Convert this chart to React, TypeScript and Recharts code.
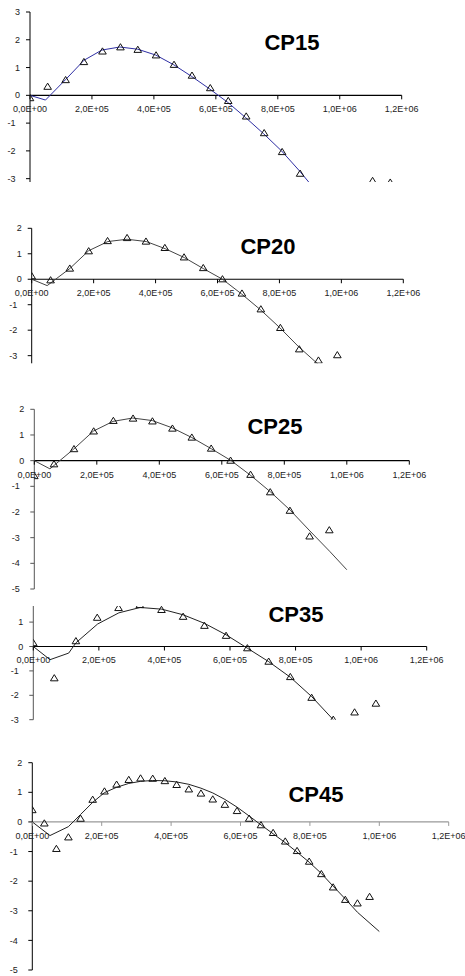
import { ScatterChart, Scatter, XAxis, YAxis, ReferenceLine } from "recharts";

const X_TICKS = [0, 200000, 400000, 600000, 800000, 1000000, 1200000];

// CP15
const CP15_X = [0, 57000, 115000, 174000, 234000, 292000, 348000, 407000, 465000, 523000, 582000, 640000, 698000, 756000, 814000, 872000, 1106000, 1163000];
const CP15_Y = [-0.1, 0.31, 0.55, 1.2, 1.58, 1.73, 1.64, 1.44, 1.1, 0.71, 0.26, -0.2, -0.76, -1.36, -2.04, -2.82, -3.08, -3.14];
const CP15_FIT_X = [0, 50000, 116000, 174000, 232000, 290000, 348000, 406000, 464000, 522000, 580000, 638000, 696000, 754000, 812000, 870000, 928000];
const CP15_FIT_Y = [0, -0.17, 0.58, 1.26, 1.63, 1.74, 1.66, 1.45, 1.1, 0.68, 0.23, -0.25, -0.8, -1.38, -2.0, -2.72, -3.5];

// CP20
const CP20_X = [0, 61000, 123000, 184000, 245000, 308000, 369000, 430000, 492000, 554000, 616000, 679000, 740000, 803000, 864000, 926000, 987000];
const CP20_Y = [0.12, -0.04, 0.42, 1.1, 1.5, 1.62, 1.48, 1.23, 0.86, 0.44, 0.0, -0.56, -1.18, -1.91, -2.75, -3.19, -2.98];
const CP20_FIT_X = [0, 50000, 123000, 184000, 246000, 308000, 370000, 431000, 493000, 554000, 616000, 678000, 739000, 801000, 862000, 940000];
const CP20_FIT_Y = [0, -0.25, 0.42, 1.12, 1.48, 1.57, 1.48, 1.2, 0.85, 0.42, 0.0, -0.58, -1.2, -1.9, -2.65, -3.5];

// CP25
const CP25_X = [0, 63000, 127000, 190000, 253000, 316000, 378000, 442000, 504000, 566000, 628000, 692000, 755000, 818000, 881000, 944000];
const CP25_Y = [-0.6, -0.14, 0.45, 1.14, 1.55, 1.64, 1.53, 1.25, 0.9, 0.47, 0.0, -0.55, -1.23, -1.95, -2.95, -2.71];
const CP25_FIT_X = [0, 50000, 126000, 189000, 252000, 315000, 378000, 441000, 504000, 567000, 630000, 693000, 756000, 819000, 882000, 945000, 1000000];
const CP25_FIT_Y = [0, -0.32, 0.45, 1.15, 1.53, 1.66, 1.56, 1.28, 0.9, 0.46, 0.0, -0.58, -1.22, -1.93, -2.74, -3.53, -4.25];

// CP35
const CP35_X = [0, 64000, 130000, 195000, 260000, 325000, 391000, 457000, 522000, 588000, 653000, 718000, 784000, 849000, 915000, 980000, 1045000];
const CP35_Y = [0.14, -1.3, 0.22, 1.18, 1.58, 1.7, 1.5, 1.22, 0.85, 0.44, -0.07, -0.62, -1.25, -2.1, -3.0, -2.7, -2.34];
const CP35_FIT_X = [0, 51000, 108000, 130000, 196000, 261000, 326000, 392000, 457000, 522000, 588000, 653000, 718000, 784000, 849000, 915000];
const CP35_FIT_Y = [0, -0.54, -0.27, 0.15, 0.92, 1.38, 1.6, 1.53, 1.3, 0.95, 0.48, -0.07, -0.62, -1.26, -2.05, -3.0];

// CP45
const CP45_X = [0, 34700, 69400, 104000, 139000, 174000, 208000, 243000, 278000, 312000, 347000, 382000, 416000, 451000, 486000, 520000, 555000, 590000, 625000, 659000, 694000, 729000, 763000, 798000, 833000, 867000, 902000, 937000, 972000];
const CP45_Y = [0.4, -0.05, -0.91, -0.52, 0.11, 0.75, 1.03, 1.26, 1.42, 1.47, 1.46, 1.38, 1.25, 1.1, 0.96, 0.76, 0.58, 0.37, 0.11, -0.11, -0.37, -0.66, -0.98, -1.34, -1.76, -2.21, -2.63, -2.75, -2.53];
const CP45_FIT_X = [0, 51000, 104000, 139000, 174000, 208000, 243000, 278000, 312000, 347000, 382000, 416000, 451000, 486000, 520000, 555000, 590000, 625000, 659000, 694000, 729000, 763000, 798000, 833000, 867000, 902000, 937000, 1000000];
const CP45_FIT_Y = [0, -0.46, -0.16, 0.25, 0.66, 0.99, 1.17, 1.3, 1.37, 1.4, 1.39, 1.35, 1.27, 1.14, 0.98, 0.76, 0.5, 0.2, -0.1, -0.4, -0.7, -1.02, -1.36, -1.74, -2.17, -2.6, -3.05, -3.7];

const FONT = '"Liberation Sans", Arial, sans-serif';
const XAX_H = 1;

const zip = (xs: number[], ys: number[]) => xs.map((x, i) => ({ x, y: ys[i] }));

// 200000 -> "2,0E+05"
function sci(v: number) {
  const [m, e] = v.toExponential(1).split("e");
  return `${m.replace(".", ",")}E${e[0]}${e.slice(1).padStart(2, "0")}`;
}

function Triangle(props: any) {
  const { cx, cy } = props;
  if (cx == null || cy == null) return <g />;
  return (
    <polygon
      points={`${cx},${cy - 3.6} ${cx - 3.8},${cy + 2.6} ${cx + 3.8},${cy + 2.6}`}
      fill="none"
      stroke="#111"
      strokeWidth={1}
    />
  );
}

const NoDot = () => <g />;

function XTick(props: any) {
  const { x, payload, zeroY, color } = props;
  return (
    <g>
      <line x1={x} x2={x} y1={zeroY} y2={zeroY + 4} stroke={color} />
      <text x={x} y={zeroY + 10.5} dy="0.71em" textAnchor="middle" fontSize={9} fontFamily={FONT} fill="#222">
        {sci(payload.value)}
      </text>
    </g>
  );
}

function YTick(props: any) {
  const { x, y, payload } = props;
  const v = payload.value;
  return (
    <text x={x - (v < 0 ? 4.5 : 0)} y={y} dy="0.35em" textAnchor="end" fontSize={9} fontFamily={FONT} fill="#222">
      {v}
    </text>
  );
}

interface PanelProps {
  title: string;
  top: number;
  height: number;
  plotTop: number;
  plotBottom: number;
  plotLeft: number;
  plotRight: number;
  yDomain: [number, number];
  yTicks: number[];
  points: { x: number; y: number }[];
  fit: { x: number; y: number }[];
  lineColor: string;
  zeroColor: string;
  yAxisColor: string;
  titleX: number;
  titleY: number;
}

function Panel(p: PanelProps) {
  const marginTop = p.plotTop - p.top;
  const marginBottom = p.top + p.height - p.plotBottom - XAX_H;
  const [yMin, yMax] = p.yDomain;
  const zeroY = marginTop + (yMax / (yMax - yMin)) * (p.plotBottom - p.plotTop);

  return (
    <div style={{ position: "absolute", left: 0, top: p.top, width: 465, height: p.height }}>
      <ScatterChart
        width={465}
        height={p.height}
        margin={{ top: marginTop, right: 465 - p.plotRight, bottom: marginBottom, left: 0 }}
      >
        <XAxis
          type="number"
          dataKey="x"
          domain={[0, 1200000]}
          ticks={X_TICKS}
          interval={0}
          allowDataOverflow
          axisLine={false}
          tickLine={false}
          height={XAX_H}
          tick={(t: any) => <XTick {...t} zeroY={zeroY} color={p.zeroColor} />}
        />
        <YAxis
          type="number"
          dataKey="y"
          domain={p.yDomain}
          ticks={p.yTicks}
          interval={0}
          allowDataOverflow
          width={p.plotLeft}
          axisLine={{ stroke: p.yAxisColor }}
          tickLine={{ stroke: p.yAxisColor }}
          tickSize={4}
          tickMargin={6}
          tick={YTick}
        />
        <ReferenceLine y={0} stroke={p.zeroColor} strokeWidth={1.2} />
        <Scatter
          data={p.fit}
          line={{ stroke: p.lineColor, strokeWidth: 1 }}
          shape={NoDot}
          legendType="none"
          isAnimationActive={false}
        />
        <Scatter data={p.points} shape={Triangle} legendType="none" isAnimationActive={false} />
      </ScatterChart>
      <div
        style={{
          position: "absolute",
          left: p.titleX - 60,
          top: p.titleY - p.top - 10.8,
          width: 120,
          textAlign: "center",
          fontFamily: FONT,
          fontWeight: "bold",
          fontSize: 22,
          lineHeight: "22px",
          color: "#000",
        }}
      >
        {p.title}
      </div>
    </div>
  );
}

export default function App() {
  return (
    <div style={{ position: "absolute", left: 0, top: 0, width: 465, height: 976, background: "#fff", fontFamily: FONT }}>
      <Panel
        title="CP15"
        top={0}
        height={187}
        plotTop={12}
        plotBottom={182}
        plotLeft={30}
        plotRight={401.7}
        yDomain={[-3.12, 3]}
        yTicks={[-3, -2, -1, 0, 1, 2, 3]}
        points={zip(CP15_X, CP15_Y)}
        fit={zip(CP15_FIT_X, CP15_FIT_Y)}
        lineColor="#2e2ea3"
        zeroColor="#000"
        yAxisColor="#000"
        titleX={292}
        titleY={43}
      />
      <Panel
        title="CP20"
        top={200}
        height={168}
        plotTop={228.3}
        plotBottom={363.3}
        plotLeft={31.7}
        plotRight={403.3}
        yDomain={[-3.3, 2]}
        yTicks={[-3, -2, -1, 0, 1, 2]}
        points={zip(CP20_X, CP20_Y)}
        fit={zip(CP20_FIT_X, CP20_FIT_Y)}
        lineColor="#444"
        zeroColor="#000"
        yAxisColor="#000"
        titleX={268}
        titleY={246.7}
      />
      <Panel
        title="CP25"
        top={395}
        height={198}
        plotTop={409.3}
        plotBottom={589}
        plotLeft={34.3}
        plotRight={409.3}
        yDomain={[-5, 2]}
        yTicks={[-5, -4, -3, -2, -1, 0, 1, 2]}
        points={zip(CP25_X, CP25_Y)}
        fit={zip(CP25_FIT_X, CP25_FIT_Y)}
        lineColor="#444"
        zeroColor="#000"
        yAxisColor="#555"
        titleX={275}
        titleY={426.7}
      />
      <Panel
        title="CP35"
        top={594}
        height={133}
        plotTop={606}
        plotBottom={719.7}
        plotLeft={33.3}
        plotRight={426.7}
        yDomain={[-3, 1.66]}
        yTicks={[-3, -2, -1, 0, 1]}
        points={zip(CP35_X, CP35_Y)}
        fit={zip(CP35_FIT_X, CP35_FIT_Y)}
        lineColor="#222"
        zeroColor="#000"
        yAxisColor="#555"
        titleX={296}
        titleY={615}
      />
      <Panel
        title="CP45"
        top={755}
        height={221}
        plotTop={762.7}
        plotBottom={970}
        plotLeft={32.3}
        plotRight={448.7}
        yDomain={[-5, 2]}
        yTicks={[-5, -4, -3, -2, -1, 0, 1, 2]}
        points={zip(CP45_X, CP45_Y)}
        fit={zip(CP45_FIT_X, CP45_FIT_Y)}
        lineColor="#222"
        zeroColor="#999"
        yAxisColor="#000"
        titleX={316}
        titleY={795}
      />
    </div>
  );
}
